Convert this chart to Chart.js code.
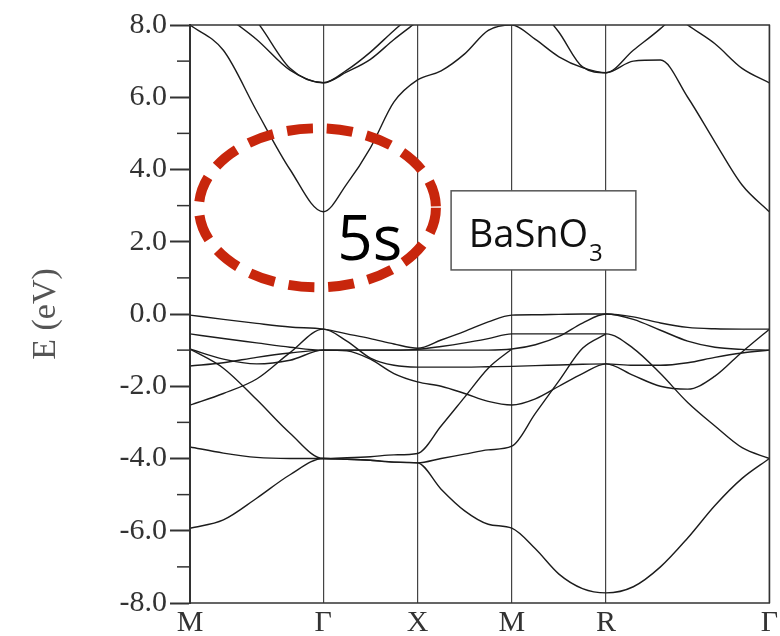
<!DOCTYPE html>
<html>
<head>
<meta charset="utf-8">
<script src="https://cdn.jsdelivr.net/npm/chart.js@4.4.0/dist/chart.umd.min.js"></script>
<style>
  body { margin: 0; background: #fff; }
  #wrap { width: 780px; height: 636px; position: relative; }
</style>
</head>
<body>
<div id="wrap"><canvas id="bands"></canvas></div>
<script>
// high-symmetry path M-G-X-M-R-G
const kSym = [0, 1.414, 2.414, 3.414, 4.414, 6.146];
const kLabels = ['M', 'Γ', 'X', 'M', 'R', 'Γ'];

// k sample points along the path
const kGrid = [0, 0.354, 0.707, 1.061, 1.414, 1.664, 1.914, 2.164, 2.414, 2.664, 2.914, 3.164,
               3.414, 3.664, 3.914, 4.164, 4.414, 4.703, 4.991, 5.280, 5.569, 5.857, 6.146];

// conduction bands (eV)
const c1 = [8.0, 7.3, 5.62, 4.0, 2.83, 3.6, 4.6, 5.87, 6.48, 6.73, 7.2, 7.85, 8.0, 7.6, 7.12, 6.82, 6.68, 7.0, 7.03, 6.0, 4.76, 3.57, 2.83];
const c2 = [9.0, 8.3, 7.6, 6.75, 6.4, 6.7, 7.05, 7.6, 8.1, null, null, null, null, null, null, null, null, null, 8.6, 8.0, 7.48, 6.8, 6.4];
const c3 = [9.8, 9.0, 8.1, 6.8, 6.4, 6.75, 7.25, 7.85, 8.4, null, null, null, 9.6, 8.6, 7.8, 6.84, 6.68, 7.3, 7.9, 8.6, null, null, null];

// valence bands (eV)
const v1 = [-0.03, -0.15, -0.26, -0.36, -0.42, -0.55, -0.68, -0.83, -0.95, -0.72, -0.48, -0.22, -0.03, -0.02, -0.01, 0, 0, -0.08, -0.25, -0.37, -0.41, -0.42, -0.42];
const v2 = [-0.55, -0.68, -0.80, -0.92, -1.0, -1.0, -1.0, -1.0, -0.98, -0.9, -0.8, -0.68, -0.55, -0.55, -0.55, -0.55, -0.55, -0.95, -1.65, -2.45, -3.1, -3.7, -4.0];
const v3 = [-0.97, -1.25, -1.38, -1.28, -1.0, -1.0, -1.0, -1.0, -1.0, -1.0, -1.0, -1.0, -0.97, -0.85, -0.62, -0.25, 0.0, -0.15, -0.45, -0.75, -0.92, -0.98, -1.0];
const v4 = [-1.44, -1.35, -1.2, -1.08, -1.0, -1.02, -1.25, -1.65, -1.88, -2.0, -2.2, -2.42, -2.52, -2.35, -2.0, -1.65, -1.38, -1.7, -2.0, -2.08, -1.72, -1.05, -0.42];
const v5 = [-2.52, -2.2, -1.8, -1.07, -0.42, -0.75, -1.22, -1.42, -1.47, -1.47, -1.47, -1.46, -1.45, -1.43, -1.41, -1.39, -1.38, -1.42, -1.42, -1.35, -1.2, -1.08, -1.0];
const v6 = [-0.97, -1.5, -2.37, -3.3, -4.0, -3.98, -3.95, -3.9, -3.86, -3.1, -2.3, -1.5, -0.97, null, null, null, null, null, null, null, null, null, null];
const v7 = [-3.68, -3.85, -3.97, -4.0, -4.0, -4.02, -4.05, -4.1, -4.12, -4.0, -3.88, -3.76, -3.66, -2.75, -1.85, -0.95, -0.55, null, null, null, null, null, null];
const v8 = [-5.93, -5.7, -5.1, -4.45, -4.0, -4.02, -4.05, -4.1, -4.12, -4.85, -5.45, -5.82, -5.93, -6.5, -7.2, -7.6, -7.72, -7.55, -7.0, -6.2, -5.3, -4.55, -4.0];

const allBands = [c1, c2, c3, v1, v2, v3, v4, v5, v6, v7, v8];

// annotations, in data units (k, eV)
const ring = { k: 1.352, e: 2.94, rk: 1.257, re: 2.2 };
const tag5s = { k: 1.563, e: 1.5, text: '5s' };
const box = { k0: 2.77, k1: 4.73, e0: 1.22, e1: 3.41, k: 2.957, e: 1.86 };

const datasets = allBands.map(b => ({
    data: b.map((e, i) => ({ x: kGrid[i], y: e })),
    borderColor: '#1c1c1c',
    borderWidth: 1.4,
    pointRadius: 0,
    fill: false,
    cubicInterpolationMode: 'monotone',
    spanGaps: false
}));

const decor = {
    id: 'decor',
    afterDraw(chart) {
        const ctx = chart.ctx;
        const a = chart.chartArea;
        const xs = chart.scales.x, ys = chart.scales.y;
        ctx.save();

        // frame
        ctx.strokeStyle = '#333';
        ctx.lineWidth = 1.5;
        ctx.strokeRect(a.left, a.top, a.right - a.left, a.bottom - a.top);

        // minor ticks
        ctx.lineWidth = 1.5;
        for (let v = -7; v <= 7; v += 2) {
            const y = ys.getPixelForValue(v);
            ctx.beginPath();
            ctx.moveTo(a.left - 13, y);
            ctx.lineTo(a.left, y);
            ctx.stroke();
        }

        // red dashed ring
        ctx.beginPath();
        ctx.setLineDash([26, 14]);
        ctx.lineWidth = 10;
        ctx.strokeStyle = '#c8260c';
        const cx = xs.getPixelForValue(ring.k), cy = ys.getPixelForValue(ring.e);
        const rx = xs.getPixelForValue(ring.k + ring.rk) - cx;
        const ry = cy - ys.getPixelForValue(ring.e + ring.re);
        ctx.ellipse(cx, cy, rx, ry, 0, 0, Math.PI * 2);
        ctx.stroke();
        ctx.setLineDash([]);

        // 5s
        ctx.fillStyle = '#000';
        ctx.font = '62px "Open Sans"';
        ctx.textBaseline = 'alphabetic';
        ctx.fillText(tag5s.text, xs.getPixelForValue(tag5s.k), ys.getPixelForValue(tag5s.e));

        // label box
        const bx0 = xs.getPixelForValue(box.k0), bx1 = xs.getPixelForValue(box.k1);
        const by0 = ys.getPixelForValue(box.e1), by1 = ys.getPixelForValue(box.e0);
        ctx.fillStyle = '#fff';
        ctx.fillRect(bx0, by0, bx1 - bx0, by1 - by0);
        ctx.strokeStyle = '#555';
        ctx.lineWidth = 1.5;
        ctx.strokeRect(bx0, by0, bx1 - bx0, by1 - by0);
        ctx.fillStyle = '#111';
        ctx.font = '38px "Open Sans"';
        const tx = xs.getPixelForValue(box.k), ty = ys.getPixelForValue(box.e);
        ctx.fillText('BaSnO', tx, ty);
        const w = ctx.measureText('BaSnO').width;
        ctx.font = '24px "Open Sans"';
        ctx.fillText('3', tx + w + 1, ty + 14);

        ctx.restore();
    }
};

new Chart(document.getElementById('bands'), {
    type: 'line',
    data: { datasets: datasets },
    options: {
        responsive: true,
        maintainAspectRatio: false,
        animation: false,
        layout: { padding: { top: 25, right: 8, left: 0, bottom: 0 } },
        plugins: { legend: { display: false }, tooltip: { enabled: false } },
        scales: {
            x: {
                type: 'linear',
                min: 0,
                max: 6.146,
                afterBuildTicks: s => { s.ticks = kSym.map(v => ({ value: v })); },
                afterFit: s => { s.height = 33; },
                ticks: {
                    autoSkip: false,
                    maxRotation: 0,
                    padding: 2,
                    color: '#333',
                    font: { family: 'Liberation Serif', size: 30 },
                    callback: (v, i) => kLabels[i]
                },
                grid: { color: '#444', lineWidth: 1.2, drawTicks: false },
                border: { display: false }
            },
            y: {
                min: -8,
                max: 8,
                afterFit: s => { s.width = 190; },
                ticks: {
                    stepSize: 2,
                    padding: 3,
                    color: '#333',
                    font: { family: 'Liberation Serif', size: 30 },
                    callback: v => v.toFixed(1)
                },
                grid: { drawOnChartArea: false, tickLength: 20, tickColor: '#333', tickWidth: 2 },
                border: { color: '#333', width: 2 },
                title: {
                    display: true,
                    text: 'E (eV)',
                    color: '#555',
                    font: { family: 'Liberation Serif', size: 34 },
                    padding: { top: 26, bottom: 0 }
                }
            }
        }
    },
    plugins: [decor]
});
</script>
</body>
</html>
